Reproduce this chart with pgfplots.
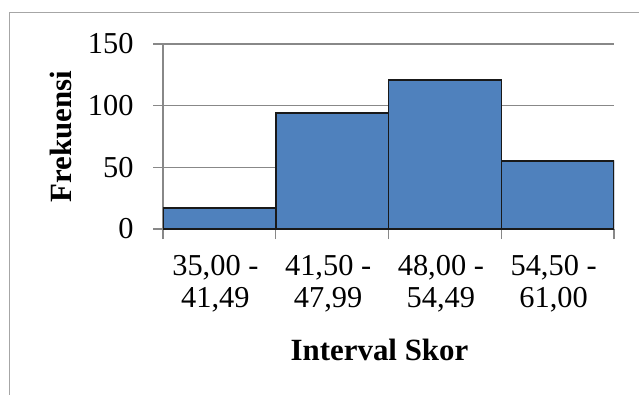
\documentclass[border=0pt]{standalone}
\usepackage{fontspec}
\setmainfont{Liberation Serif}
\usepackage{pgfplots}
\pgfplotsset{compat=1.18}
\definecolor{barblue}{HTML}{4F81BD}
\definecolor{gridgray}{HTML}{888888}
\definecolor{framegray}{HTML}{A6A6A6}
\begin{document}
\begin{tikzpicture}[x=1bp,y=1bp]
\useasboundingbox (0,0) rectangle (639,394);
\draw[color=framegray, line width=1bp] (9,-5) -- (9,381) -- (645,381);
\begin{axis}[
  at={(163bp,165bp)}, anchor=south west,
  width=451bp, height=185bp, scale only axis,
  ybar interval,
  xmin=0, xmax=4, ymin=0, ymax=150,
  ytick={0,50,100,150},
  xtick={0,1,2,3,4},
  x tick label as interval,
  xticklabels={{35,00 -\\41,49},{41,50 -\\47,99},{48,00 -\\54,49},{54,50 -\\61,00}},
  axis x line*=bottom, axis y line*=left,
  axis line style={draw=gridgray, line width=1.2bp},
  xmajorgrids=false, ymajorgrids=true,
  grid style={draw=gridgray, line width=1.2bp},
  tick align=outside, major tick length=10bp,
  tick style={draw=gridgray, line width=1.2bp},
  /pgf/number format/assume math mode=true,
  ticklabel style={font=\fontsize{30.5}{32}\selectfont},
  xticklabel style={align=center, anchor=north, yshift=-13bp, xshift=-4bp},
  yticklabel style={anchor=east, xshift=-16bp},
  ylabel={\textbf{Frekuensi}},
  xlabel={\textbf{Interval Skor}},
  label style={font=\fontsize{31}{34}\selectfont},
  ylabel style={at={(axis description cs:0,0.5)}, anchor=center, yshift=102bp},
  xlabel style={at={(axis description cs:0.5,0)}, anchor=base, yshift=-131bp, xshift=-9bp},
]
\addplot[fill=barblue, draw=black!90, line width=1.5bp] coordinates {(0,17) (1,94) (2,121) (3,55) (4,55)};
\end{axis}
\end{tikzpicture}
\end{document}
